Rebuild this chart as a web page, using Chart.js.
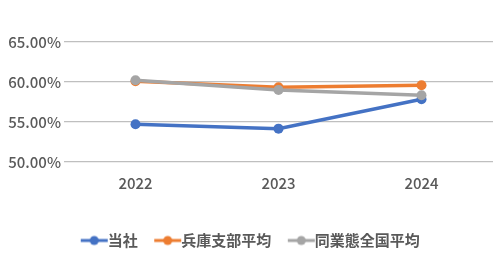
<!DOCTYPE html>
<html>
<head>
<meta charset="utf-8">
<script src="https://cdn.jsdelivr.net/npm/chart.js@4"></script>
<style>
  html, body { margin: 0; padding: 0; background: #fff; }
  #wrap { width: 504px; height: 264px; }
</style>
</head>
<body>
<div id="wrap"><canvas id="chart"></canvas></div>
<script>
const YEARS = ["2022", "2023", "2024"];
const COMPANY = [54.71, 54.17, 57.84];
const HYOGO_AVG = [60.09, 59.34, 59.6];
const NATIONAL_AVG = [60.21, 59.0, 58.34];
const Y_TICKS = [50, 55, 60, 65];

const COLORS = { company: "#4472c4", hyogo: "#ed7d31", national: "#a5a5a5" };
const FONT = "'Noto Sans CJK JP', 'Noto Sans', sans-serif";

// legend marker: short line with a dot in the middle (drawn right of centre so text sits close)
function legendMarker(color) {
  const c = document.createElement("canvas");
  c.width = 40;
  c.height = 12;
  const ctx = c.getContext("2d");
  ctx.strokeStyle = color;
  ctx.lineWidth = 3;
  ctx.beginPath();
  ctx.moveTo(8, 6);
  ctx.lineTo(35, 6);
  ctx.stroke();
  ctx.fillStyle = color;
  ctx.beginPath();
  ctx.arc(21.5, 6, 4.5, 0, Math.PI * 2);
  ctx.fill();
  return c;
}

function series(label, data, color, order) {
  return {
    label,
    data,
    borderColor: color,
    backgroundColor: color,
    borderWidth: 3.5,
    pointRadius: 5,
    pointHoverRadius: 5,
    pointBorderWidth: 0,
    pointStyle: "circle",
    tension: 0,
    order,
    legendMarker: legendMarker(color),
  };
}

// centre the legend on the whole canvas, not on the padded box
const legendShift = {
  id: "legendShift",
  afterLayout(chart) {
    chart.legend.left += 4;
    chart.legend.right += 4;
  },
};

new Chart(document.getElementById("chart"), {
  type: "line",
  data: {
    labels: YEARS,
    datasets: [
      series("当社", COMPANY, COLORS.company, 3),
      series("兵庫支部平均", HYOGO_AVG, COLORS.hyogo, 2),
      series("同業態全国平均", NATIONAL_AVG, COLORS.national, 1),
    ],
  },
  plugins: [legendShift],
  options: {
    responsive: true,
    maintainAspectRatio: false,
    animation: false,
    layout: { padding: { left: 4, right: 11, top: 42, bottom: 6 } },
    plugins: {
      tooltip: { enabled: false },
      legend: {
        position: "bottom",
        labels: {
          color: "#595959",
          font: { family: FONT, size: 15, weight: "bold" },
          usePointStyle: true,
          boxWidth: 20,
          boxHeight: 12,
          padding: 21,
          generateLabels(chart) {
            return chart.data.datasets.map((ds, i) => ({
              text: ds.label,
              fontColor: "#595959",
              pointStyle: ds.legendMarker,
              datasetIndex: i,
              hidden: false,
              lineWidth: 0,
            }));
          },
        },
      },
    },
    scales: {
      x: {
        offset: true,
        grid: { display: false },
        border: { display: false },
        afterFit(axis) {
          axis.height += 16;
        },
        ticks: {
          color: "#595959",
          font: { family: FONT, size: 15, weight: "500" },
          padding: 4,
        },
      },
      y: {
        min: Y_TICKS[0],
        max: Y_TICKS[Y_TICKS.length - 1],
        afterBuildTicks(axis) {
          axis.ticks = Y_TICKS.map((v) => ({ value: v }));
        },
        afterFit(axis) {
          axis.width = 60;
        },
        grid: { color: "#bfbfbf", lineWidth: 1.3, drawTicks: false },
        border: { display: false },
        ticks: {
          color: "#595959",
          font: { family: FONT, size: 15, weight: "500" },
          padding: 3,
          callback: (v) => v.toFixed(2) + "%",
        },
      },
    },
  },
});
</script>
</body>
</html>
